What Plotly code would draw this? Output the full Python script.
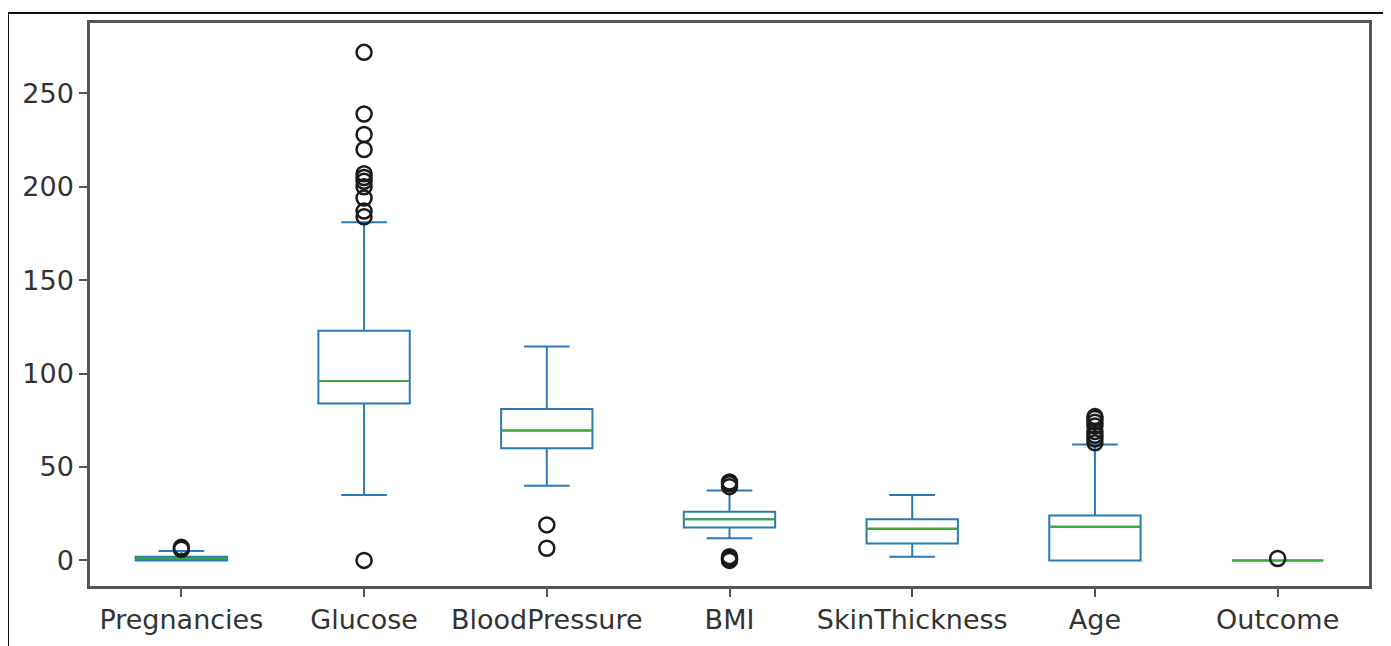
import plotly.graph_objects as go

categories = ["Pregnancies", "Glucose", "BloodPressure", "BMI", "SkinThickness", "Age", "Outcome"]
q1 = [0, 84, 60, 17.6, 9, 0, 0]
median = [1, 96, 69.5, 22, 17, 18, 0]
q3 = [2, 123, 81, 26, 22, 24, 0]
lower_fence = [0, 35, 40, 11.8, 2, 0, 0]
upper_fence = [5, 181, 114.5, 37.4, 35, 62, 0]
outliers = [
    [6, 7],
    [0, 184, 187, 194, 200, 203, 205, 207, 220, 228, 239, 272],
    [6.5, 19],
    [0, 0.5, 1, 2, 39.5, 41, 42],
    [],
    [63, 65, 67, 69, 72, 74, 76, 77],
    [1],
]
y_ticks = [0, 50, 100, 150, 200, 250]

BOX_W = 0.5
positions = list(range(1, len(categories) + 1))

fig = go.Figure()
for i, name in enumerate(categories):
    p = positions[i]
    fig.add_trace(go.Box(
        x=[p], q1=[q1[i]], median=[median[i]], q3=[q3[i]],
        lowerfence=[lower_fence[i]], upperfence=[upper_fence[i]],
        width=BOX_W, whiskerwidth=0.5, boxpoints=False,
        line=dict(color="#2a7ab8", width=2), fillcolor="rgba(255,255,255,0)",
        showlegend=False, hoverinfo="skip",
    ))
    fig.add_trace(go.Scatter(
        x=[p - BOX_W / 2, p + BOX_W / 2], y=[median[i], median[i]],
        mode="lines", line=dict(color="#3aa83a", width=2),
        showlegend=False, hoverinfo="skip",
    ))
    if outliers[i]:
        fig.add_trace(go.Scatter(
            x=[p] * len(outliers[i]), y=outliers[i], mode="markers",
            marker=dict(symbol="circle-open", size=15, color="#1a1a1a",
                        line=dict(width=2.5, color="#1a1a1a")),
            showlegend=False, hoverinfo="skip",
        ))

axis_common = dict(
    showline=True, linecolor="#555555", linewidth=2.5, mirror=True,
    ticks="outside", ticklen=8, tickwidth=2, tickcolor="#555555",
    showgrid=False, zeroline=False,
    tickfont=dict(family="DejaVu Sans", size=27, color="#333333"),
)

fig.update_layout(
    width=1391, height=646,
    margin=dict(l=82, r=30, t=15, b=68),
    paper_bgcolor="white", plot_bgcolor="white",
    xaxis=dict(range=[0.5, 7.5], tickvals=positions, ticktext=categories, **axis_common),
    yaxis=dict(range=[-13.7, 287.7], tickvals=y_ticks, **axis_common),
    shapes=[dict(type="rect", xref="paper", yref="paper",
                 x0=-0.0641, x1=1.0118, y0=-0.2, y1=1.0178,
                 line=dict(color="#111111", width=2), layer="above")],
)

fig.write_html("out.html")
